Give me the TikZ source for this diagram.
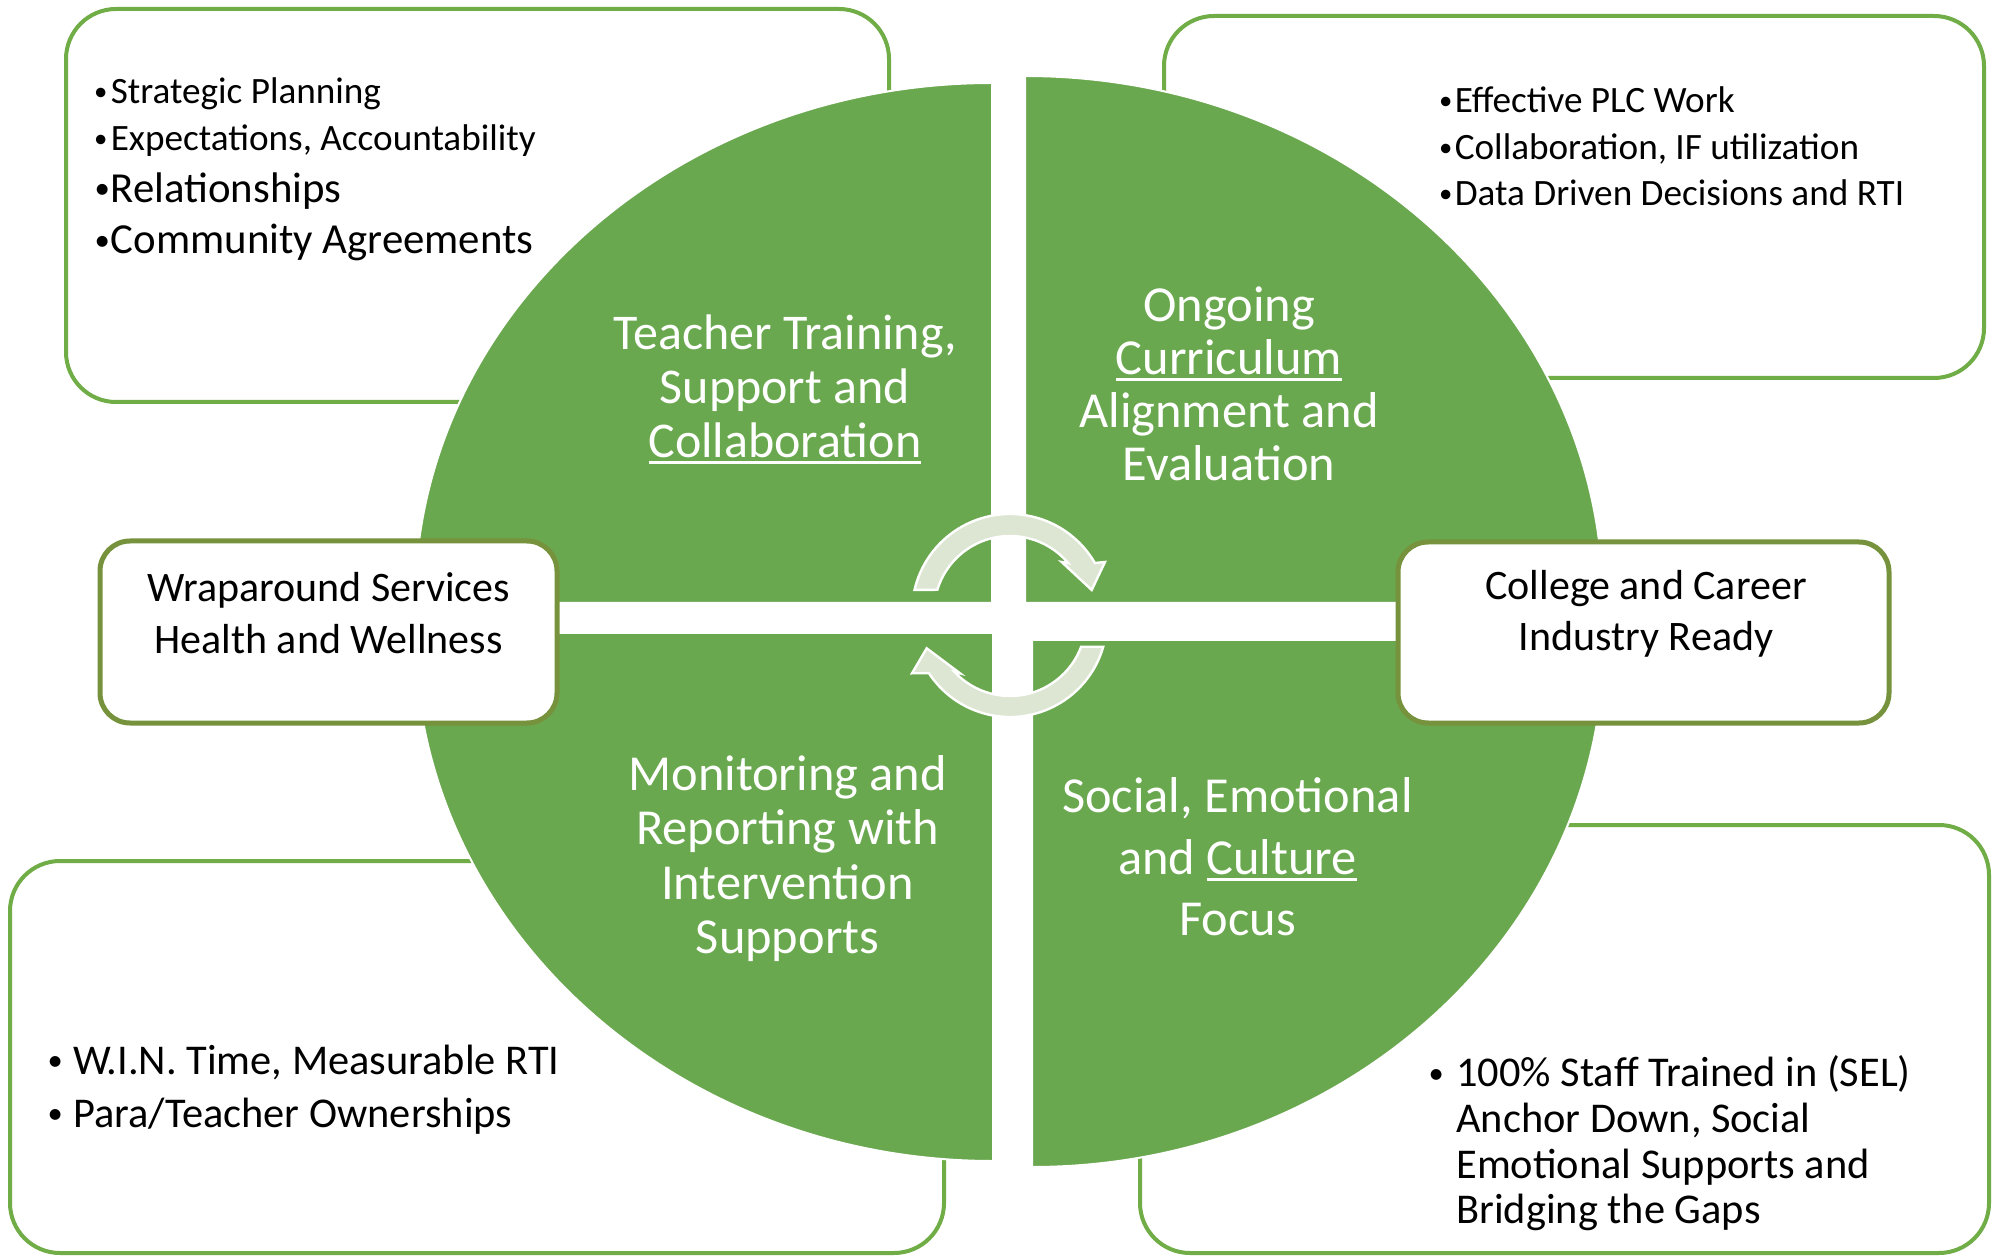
\documentclass[tikz,border=0pt]{standalone}
\usepackage{fontspec}
\usepackage{graphicx}
\setmainfont{Carlito}
\usetikzlibrary{calc}
\definecolor{quadgreen}{RGB}{106,168,79}
\definecolor{boxgreen}{RGB}{112,173,71}
\definecolor{olivegreen}{RGB}{118,146,60}
\definecolor{arrowfill}{RGB}{221,229,211}
\newsavebox\ulbox
\newcommand\uln[1]{\sbox\ulbox{#1}\rlap{\rule[-0.13em]{\wd\ulbox}{0.06em}}\usebox\ulbox}
\newcommand\bl[1]{\makebox[#1][l]{\hspace{0.1em}\raisebox{0.08em}{\scalebox{0.72}{•}}}}
\begin{document}
\begin{tikzpicture}[x=0.5pt,y=-0.5pt,
  outerbox/.style={draw=boxgreen, line width=2pt, fill=white, rounded corners=25pt},
  sidebox/.style={draw=olivegreen, line width=2.5pt, fill=white, rounded corners=15pt},
  quad/.style={fill=quadgreen, draw=white, line width=1pt},
  cyclearrow/.style={fill=arrowfill, draw=white, line width=1.2pt, line join=miter},
  quadtext/.style={text=white, align=center, inner sep=0pt},
  listtext/.style={text=black, align=left, inner sep=0pt, anchor=west},
  sidetext/.style={text=black, align=center, inner sep=0pt, font=\fontsize{21pt}{25.8pt}\selectfont}]
\useasboundingbox (0,0) rectangle (1992,1256);
\fill[white] (0,0) rectangle (1992,1256);

% outer boxes
\draw[outerbox] (66,9) rectangle (889,402);
\draw[outerbox] (1164,16) rectangle (1984,378);
\draw[outerbox] (10,861) rectangle (944,1253);
\draw[outerbox] (1140,825) rectangle (1989,1253);

% quadrants
\coordinate (qtl) at (992,603);
\coordinate (qtr) at (1025,603);
\coordinate (qbl) at (993,633);
\coordinate (qbr) at (1032,640);
\draw[quad] (qtl) -- ++(-577,0) arc[start angle=180,end angle=270,x radius=577,y radius=520] -- cycle;
\draw[quad] (qtr) -- ++(0,-527) arc[start angle=270,end angle=360,x radius=578,y radius=527] -- cycle;
\draw[quad] (qbl) -- ++(0,528) arc[start angle=90,end angle=180,x radius=578,y radius=528] -- cycle;
\draw[quad] (qbr) -- ++(572,0) arc[start angle=0,end angle=90,x radius=572,y radius=527] -- cycle;

% side boxes
\draw[sidebox] (100,541) rectangle (557,723);
\draw[sidebox] (1398,542) rectangle (1889,723);

% cycle arrows
\coordinate (c1) at (1010,612);
\coordinate (c2) at (1010,620);
\draw[cyclearrow] ($(c1)+(193:98)$) arc[start angle=193, end angle=330, radius=98]
  -- (1105,562) -- (1091.7,590) -- (1061.7,562) -- ($(c1)+(320:76)$)
  arc[start angle=320, end angle=197, radius=76] -- cycle;
\draw[cyclearrow] ($(c2)+(16:97)$) arc[start angle=16, end angle=146.7, radius=97]
  -- (912,673.3) -- (926.7,648.3) -- (960,673.3) -- ($(c2)+(137:76)$)
  arc[start angle=137, end angle=20.6, radius=76] -- cycle;

% quadrant texts
\node[quadtext, font=\fontsize{25pt}{27pt}\selectfont] (tteach) at (785,389)
  {Teacher Training,\\Support and\\\uln{Collaboration}};
\node[quadtext, font=\fontsize{25.2pt}{26.5pt}\selectfont] (tcurr) at (1229,383.5)
  {Ongoing\\\uln{Curriculum}\\Alignment and\\Evaluation};
\node[quadtext, font=\fontsize{25.2pt}{27.2pt}\selectfont] (tmon) at (787.6,858.7)
  {Monitoring and\\Reporting with\\Intervention\\Supports};
\node[quadtext, font=\fontsize{25.2pt}{30.6pt}\selectfont] (tsoc) at (1237.5,856.8)
  {Social, Emotional\\and \uln{Culture}\\Focus};

% side box texts
\node[sidetext] (twrap) at (328.5,613) {Wraparound Services\\Health and Wellness};
\node[sidetext] (tcol) at (1646,613.7) {College and Career\\Industry Ready};

% top-left list
\node[listtext, font=\fontsize{18.6pt}{22pt}\selectfont] (l1) at (90,93.9) {\bl{10.2pt}Strategic Planning};
\node[listtext, font=\fontsize{18.6pt}{22pt}\selectfont] (l2) at (90,140.8) {\bl{10.2pt}Expectations, Accountability};
\node[listtext, font=\fontsize{21.4pt}{25pt}\selectfont] (l3) at (90,191) {\bl{10.2pt}Relationships};
\node[listtext, font=\fontsize{21.4pt}{25pt}\selectfont] (l4) at (90,242.9) {\bl{10.2pt}Community Agreements};

% top-right list
\node[listtext, font=\fontsize{18.6pt}{23.2pt}\selectfont] (r1) at (1435,146.4)
  {\bl{9.7pt}Effective PLC Work\\\bl{9.7pt}Collaboration, IF utilization\\\bl{9.7pt}Data Driven Decisions and RTI};

% bottom-left list
\node[listtext, font=\fontsize{21.2pt}{26.5pt}\selectfont] (b1) at (43,1089.5)
  {\bl{15pt}W.I.N. Time, Measurable RTI\\\bl{15pt}Para/Teacher Ownerships};

% bottom-right list
\node[listtext, font=\fontsize{21.2pt}{22.8pt}\selectfont] (s1) at (1424,1143.5)
  {\bl{16pt}100\% Staff Trained in (SEL)\\\hspace*{16pt}Anchor Down, Social\\\hspace*{16pt}Emotional Supports and\\\hspace*{16pt}Bridging the Gaps};
\end{tikzpicture}
\end{document}
